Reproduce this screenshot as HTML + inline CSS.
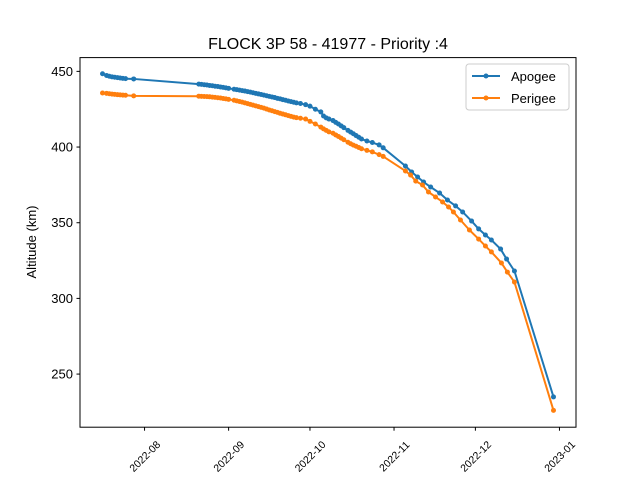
<!DOCTYPE html>
<html><head><meta charset="utf-8"><style>
html,body{margin:0;padding:0;background:#fff;}
svg{display:block;font-family:"Liberation Sans","DejaVu Sans",sans-serif;}
</style></head><body>
<svg id="chart" width="640" height="480" viewBox="0 0 640 480" xmlns="http://www.w3.org/2000/svg">
<rect width="640" height="480" fill="#fff"/>
<text x="328" y="49" font-size="16" text-anchor="middle" fill="#000">FLOCK 3P 58 - 41977 - Priority :4</text>
<text transform="translate(36,242) rotate(-90)" font-size="13" text-anchor="middle" fill="#000">Altitude (km)</text>
<g id="series"></g>
<g id="axes"></g>
<g>
<rect x="466" y="64" width="103" height="46" rx="3" fill="#fff" fill-opacity="0.8" stroke="#ccc" stroke-width="1"/>
<line x1="472" y1="76" x2="500" y2="76" stroke="#1f77b4" stroke-width="2"/>
<circle cx="486" cy="76" r="2.5" fill="#1f77b4"/>
<text x="511" y="81" font-size="13" fill="#000">Apogee</text>
<line x1="472" y1="98" x2="500" y2="98" stroke="#ff7f0e" stroke-width="2"/>
<circle cx="486" cy="98" r="2.5" fill="#ff7f0e"/>
<text x="511" y="103" font-size="13" fill="#000">Perigee</text>
</g>
</svg>
<script>
// days since 2022-08-01
const apogeeDays = [-15.5,-14,-13,-12,-11,-10,-9,-8,-7,-4,
20,21,22,23,24,25,26,27,28,29,30,31,33,34,35,36,37,38,39,40,41,42,43,44,45,46,47,48,49,50,51,52,53,54,55,56,57.5,
59.4,61,63,65,66,67,68,69.5,70.5,71.5,72.5,73.5,75,76,77,78,79,80,82,84,86.5,88,
96.2,98.5,100.7,102.9,105.5,108.8,111.7,114.7,117.3,120.6,123.2,125.7,127.9,131.3,133.5,136.4,150.8];
const apogeeAlt = [448.4,447.3,446.8,446.4,446.1,445.9,445.6,445.4,445.2,445,
441.6,441.4,441.2,441,440.7,440.5,440.2,440,439.7,439.4,439.1,438.8,438.2,437.9,437.6,437.3,437,436.6,436.3,435.9,435.5,435.1,434.7,434.3,433.9,433.5,433.1,432.7,432.2,431.8,431.3,430.9,430.4,430,429.6,429.2,428.8,
428,427,425,423.2,420.5,419.3,418.5,417.5,416.3,415.2,414,412.8,411,409.9,408.8,407.6,406.5,405.3,404,403,401.4,399.5,
387.5,383.5,380.2,376.9,373.6,369.6,365,361.1,357.1,351.1,345.9,341.9,338.6,332.6,326,318.1,234.9];
const perigeeDays = [-15.5,-14,-13,-12,-11,-10,-9,-8,-7,-4,
20,21,22,23,24,25,26,27,28,29,30,31,33,34,35,36,37,38,39,40,41,42,43,44,45,46,47,48,49,50,51,52,53,54,55,56,57.5,
59.4,61,63,65,66,67,68,69.5,70.5,71.5,72.5,73.5,75,76,77,78,79,80,82,84,86.5,88,
96.2,98.1,100,102.5,104.7,107.3,109.9,112.1,113.9,116.5,119.8,123.2,125.7,127.9,131.6,133.8,136.4,150.8];
const perigeeAlt = [435.7,435.5,435.2,435,434.8,434.6,434.5,434.3,434.2,433.8,
433.6,433.5,433.4,433.3,433.2,433,432.8,432.6,432.4,432.1,431.8,431.5,430.9,430.5,430.1,429.7,429.2,428.7,428.2,427.7,427.2,426.7,426.2,425.7,425.1,424.5,424,423.4,422.9,422.3,421.8,421.3,420.8,420.3,419.8,419.4,419,
418.5,417,415.2,413.2,412,411,410,409.1,408,407,405.9,404.8,403.2,402.2,401.3,400.5,399.7,398.9,397.8,396.8,395,393.8,
384.2,381.5,377.5,374.9,370.3,367,363.7,360.4,357.1,351.8,345.2,339.2,334.6,330.7,323.4,317.4,310.8,226];
const yTicks = [250,300,350,400,450];
const xTickDays = [0,31,61,92,122,153];
const xTickLabels = ["2022-08","2022-09","2022-10","2022-11","2022-12","2023-01"];

const NS="http://www.w3.org/2000/svg";
const L=80,R=576,T=57.6,B=427.2;
const xMin=-23.8,xMax=159.1,yMin=214.9,yMax=459.1;
function xs(d){return L+(d-xMin)/(xMax-xMin)*(R-L);}
function ys(v){return B-(v-yMin)/(yMax-yMin)*(B-T);}
function mk(tag,attrs,parent){const e=document.createElementNS(NS,tag);for(const k in attrs)e.setAttribute(k,attrs[k]);parent.appendChild(e);return e;}

const sg=document.getElementById('series');
function drawSeries(days,alts,color,name){
  const g=mk('g',{},sg);
  
  
  const pts=days.map((d,i)=>xs(d).toFixed(2)+','+ys(alts[i]).toFixed(2)).join(' ');
  const pl=mk('polyline',{points:pts,fill:'none',stroke:color,'stroke-width':2,'stroke-linejoin':'round'},g);
  
  
  days.forEach((d,i)=>{
    const c=mk('circle',{cx:xs(d),cy:ys(alts[i]),r:2.5,fill:color},g);
    
    
  });
}
drawSeries(apogeeDays,apogeeAlt,'#1f77b4','apogee');
drawSeries(perigeeDays,perigeeAlt,'#ff7f0e','perigee');

const ax=document.getElementById('axes');
const frame=mk('rect',{x:L,y:T,width:R-L,height:B-T,fill:'none',stroke:'#000','stroke-width':1},ax);


yTicks.forEach(v=>{
  const y=ys(v);
  mk('line',{x1:L-3.5,y1:y,x2:L,y2:y,stroke:'#000','stroke-width':1},ax);
  const t=mk('text',{x:L-7,y:y+4.5,'font-size':13,'text-anchor':'end',fill:'#000'},ax);
  t.textContent=v;
  
  
});
xTickDays.forEach((d,i)=>{
  const x=xs(d);
  mk('line',{x1:x,y1:B,x2:x,y2:B+3.5,stroke:'#000','stroke-width':1},ax);
  const t=mk('text',{x:x,y:460,'font-size':10.5,'text-anchor':'middle',fill:'#000',transform:'rotate(-45 '+x+' 456)'},ax);
  t.textContent=xTickLabels[i];
  
  
});
</script>
</body></html>
